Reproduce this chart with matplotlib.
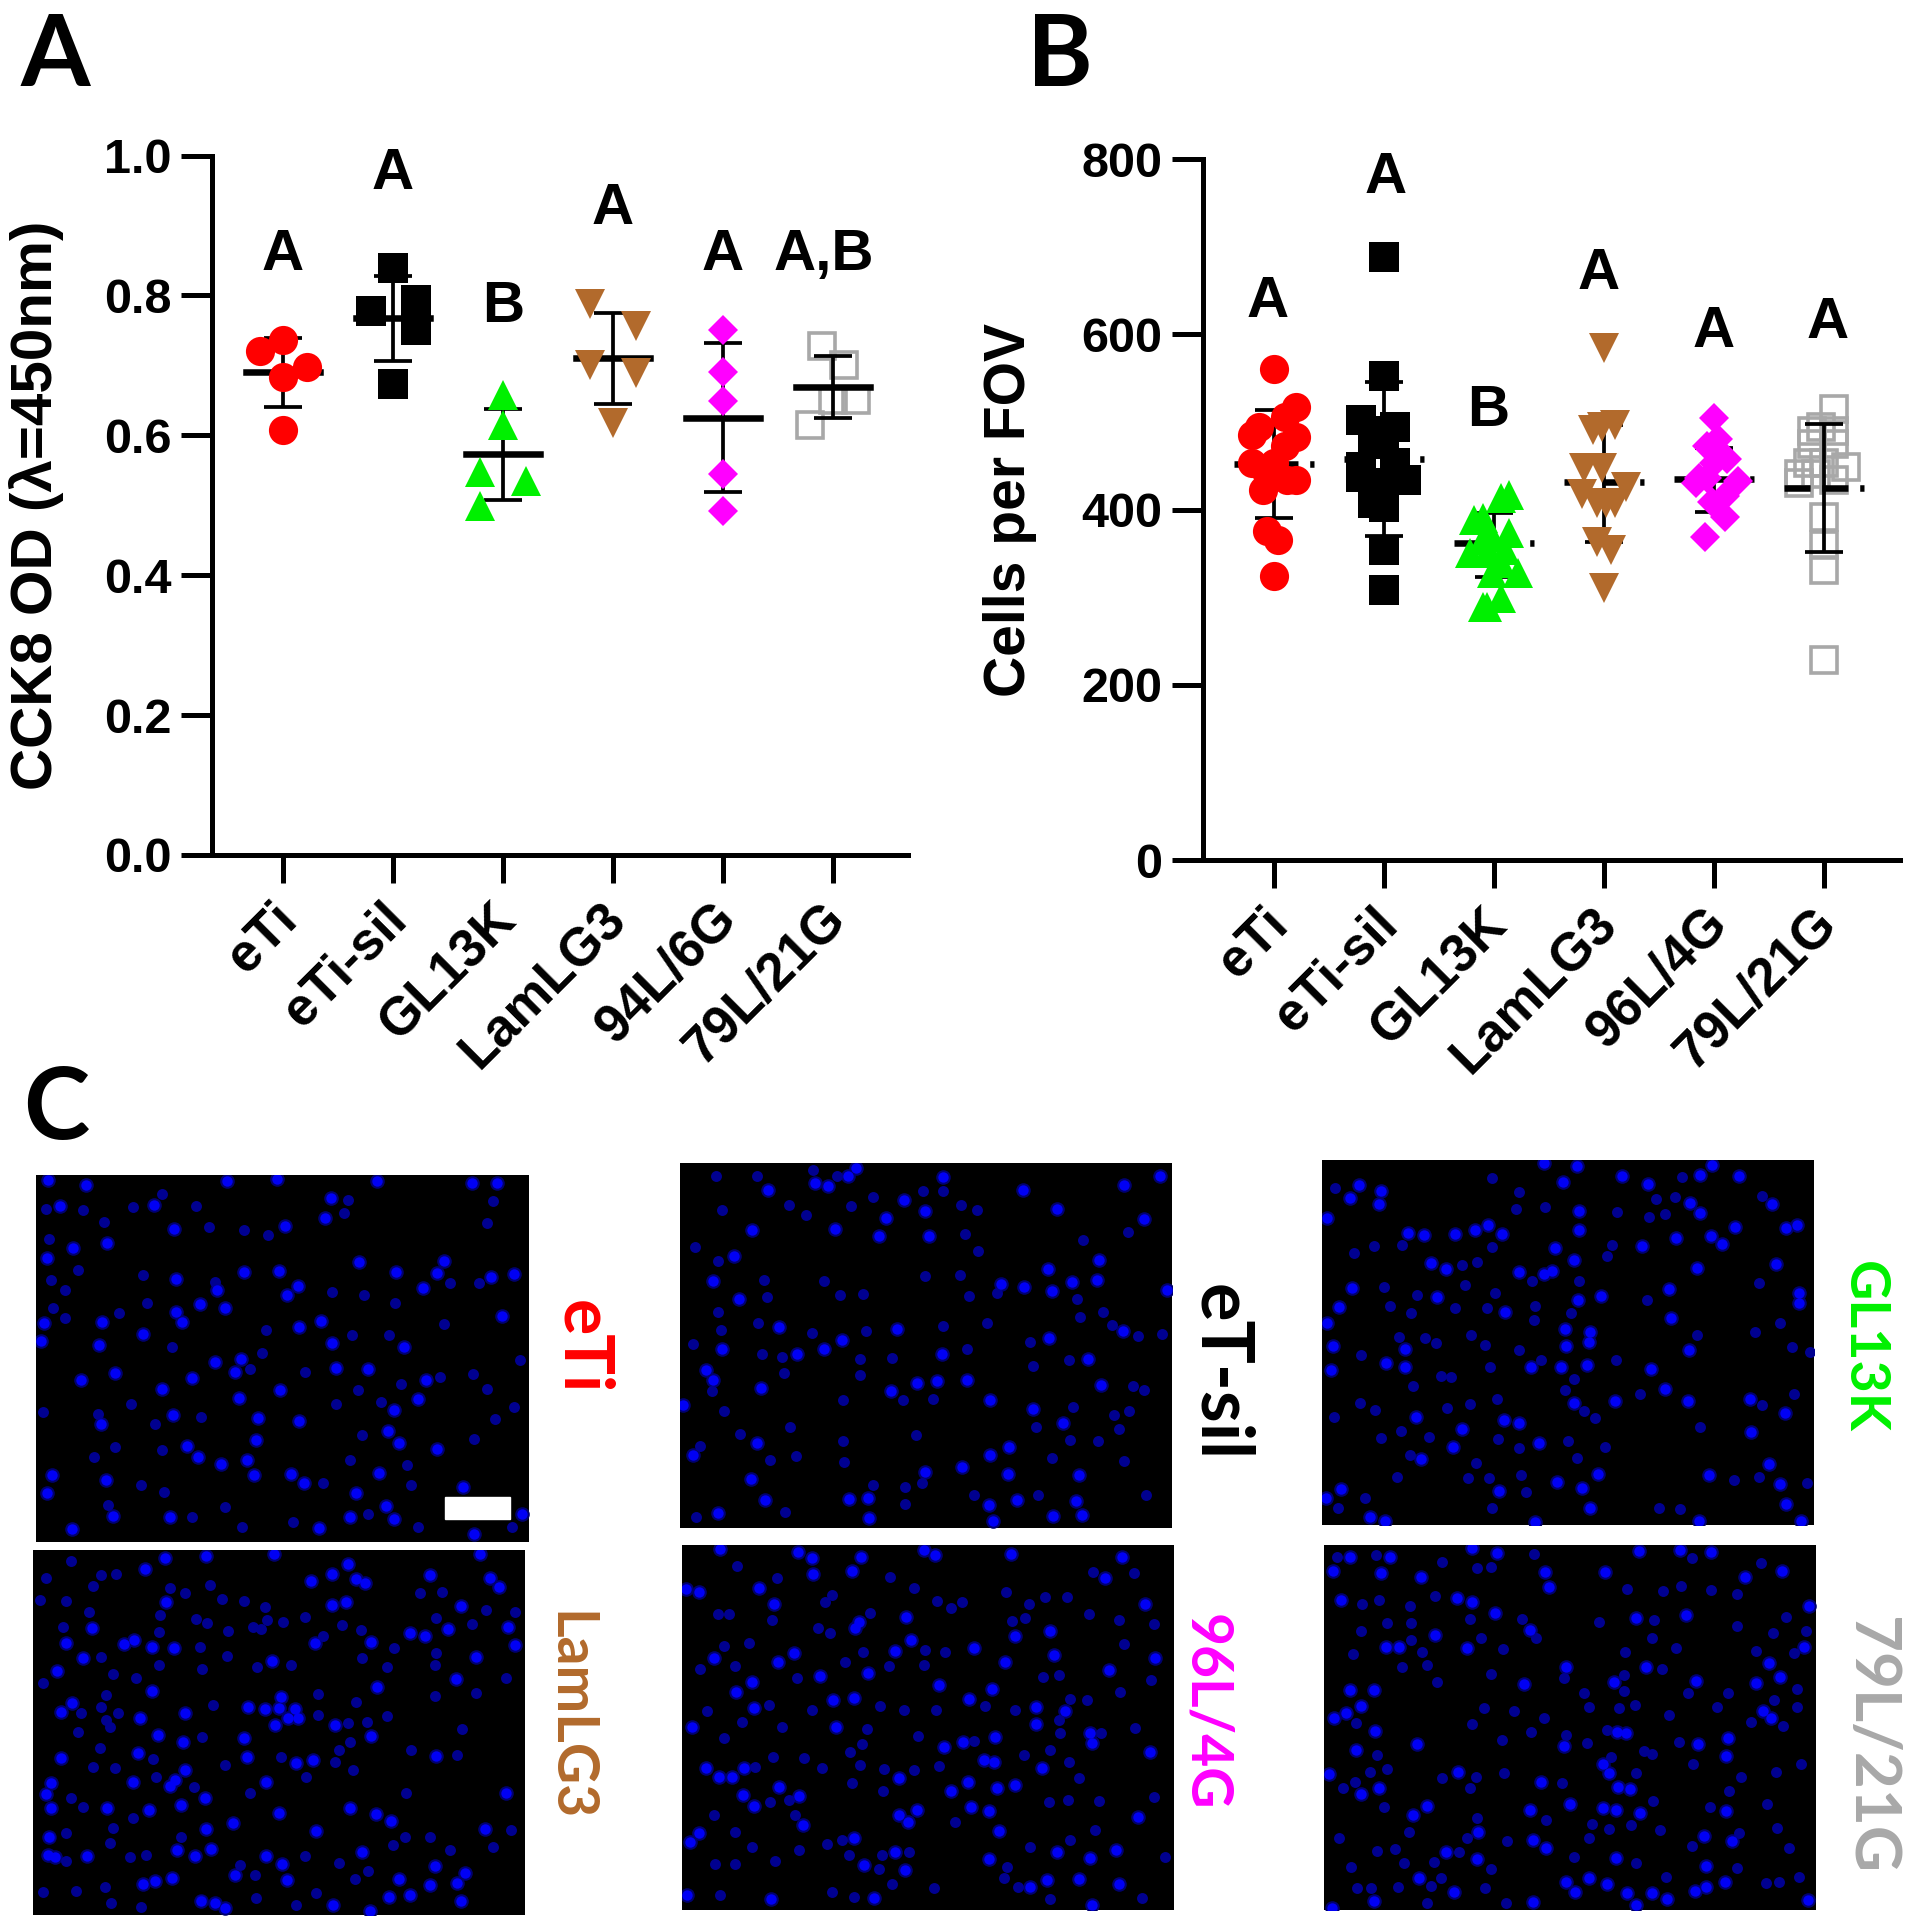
import matplotlib
matplotlib.use('Agg')
from matplotlib import pyplot as plt
from matplotlib.transforms import ScaledTranslation

W = 1909
H = 1920
SANS = 'Liberation Sans'
LABELS_FONT = 'Lato'

names_a = ['eTi', 'eTi-sil', 'GL13K', 'LamLG3', '94L/6G', '79L/21G']
names_b = ['eTi', 'eTi-sil', 'GL13K', 'LamLG3', '96L/4G', '79L/21G']
colors = ['#ff0000', '#000000', '#00f000', '#b26a2c', '#ff00ff', '#a8a8a8']

# panel A, values, dx = swarm offset in category units
a_vals = [
    [0.736, 0.720, 0.698, 0.684, 0.608],
    [0.839, 0.793, 0.777, 0.750, 0.674],
    [0.658, 0.615, 0.547, 0.534, 0.499],
    [0.788, 0.756, 0.700, 0.689, 0.618],
    [0.750, 0.690, 0.649, 0.545, 0.492],
    [0.728, 0.700, 0.650, 0.650, 0.615],
]
a_dx = [
    [0, -.21, .22, 0, 0],
    [0, .21, -.2, .21, 0],
    [0, 0, -.21, .21, -.21],
    [-.21, .21, -.21, .21, 0],
    [0, 0, 0, 0, 0],
    [-.104, .104, .208, 0, -.208],
]
a_mean = [0.690, 0.768, 0.573, 0.710, 0.625, 0.669]
a_top = [0.739, 0.828, 0.638, 0.775, 0.732, 0.714]
a_bot = [0.640, 0.706, 0.507, 0.645, 0.519, 0.625]
a_letters = ['A', 'A', 'B', 'A', 'A', 'A,B']
a_letter_x = [0, 1, 2, 3, 4, 4.92]
a_letter_y = [0.858, 0.973, 0.783, 0.923, 0.858, 0.858]

# panel B
b_vals = [
    [560, 517, 506, 494, 485, 483, 472, 453, 453, 441, 434, 434, 422, 375, 365, 324],
    [688, 552, 502, 494, 490, 490, 475, 475, 453, 449, 437, 434, 430, 430, 407, 403, 354, 308],
    [416, 413, 390, 388, 373, 369, 365, 350, 350, 354, 339, 327, 327, 299, 289, 289],
    [584, 496, 494, 491, 447, 447, 426, 418, 407, 407, 407, 363, 354, 310],
    [504, 481, 472, 458, 453, 436, 436, 430, 433, 415, 409, 392, 369],
    [515, 494, 490, 490, 475, 475, 453, 453, 449, 441, 441, 434, 430, 392, 359, 331, 228],
]
b_dx = [
    [0, .2, .1, -.14, -.2, .2, .1, -.2, 0, -.06, .12, .2, -.1, -.06, .04, 0],
    [0, 0, -.21, .1, -.1, 0, -.1, 0, .1, -.21, -.21, .2, -.1, 0, -.1, 0, 0, 0],
    [.14, .06, -.1, -.18, .14, -.02, -.1, -.22, -.06, .1, .06, -.02, .22, .06, -.06, -.1],
    [0, .1, -.02, -.1, -.18, -.02, .2, -.2, -.06, .1, .02, -.06, .06, 0],
    [0, .04, -.06, .12, 0, -.14, -.06, -.16, .22, .1, -.02, .1, -.08],
    [.09, -.03, -.11, .09, -.11, .09, -.15, 0, .2, -.23, -.07, .09, -.23, 0, 0, 0, 0],
]
b_mean = [452, 458, 362, 431, 435, 425]
b_top = [513, 545, 396, 497, 470, 498]
b_bot = [390, 370, 323, 363, 397, 352]
b_letters = ['A', 'A', 'B', 'A', 'A', 'A']
b_letter_x = [-0.06, 1.01, 1.95, 2.95, 4, 5.03]
b_letter_y = [637, 778, 512, 669, 602, 613]

markers = ['o', 's', '^', 'v', 'D', 's']
marker_sizes = [21, 21, 22, 22, 15, 19]

# nuclei in the micrographs in zoomed crop pixels
eti_bright = [(210,105),(118,90),(555,92),(676,88),(922,92),(1153,100),(1215,100),(808,143),(148,168),(377,166),(425,237),(178,293),(262,280),(793,205),(695,228),(115,325),(597,365),(682,362),(878,336),(967,365),(1085,333),(1067,370),(1255,372),(1200,382),(1033,413),(728,407),(700,435),(430,386),(530,420),(550,473),(488,463),(430,487),(445,516),(250,515),(108,520),(785,513),(730,530),(1225,497),(988,590),(350,553),(100,573),(243,585),(810,580),(588,627),(525,635),(575,665),(470,683),(280,667),(198,690),(395,715),(685,720),(820,652),(900,655),(1040,688),(1022,747),(963,780),(585,742),(630,802),(730,813),(422,795),(247,822),(948,843),(625,870),(1068,895),(975,878),(458,888),(483,920),(540,942),(603,928),(128,973),(258,990),(620,975),(712,970),(925,967),(743,998),(870,1027),(115,1028),(943,1067),(1130,1010),(415,1100),(277,1097),(855,1100),(175,1137),(780,1133),(963,1105),(1275,1090),(1157,1150)]
eti_dim = [(113,178),(204,180),(255,215),(325,170),(478,168),(510,232),(595,240),(655,255),(850,150),(840,190),(1190,220),(1205,153),(395,132),(120,268),(190,360),(350,375),(125,390),(160,420),(130,475),(160,505),(290,490),(360,460),(525,395),(810,425),(890,435),(965,460),(1100,400),(1170,400),(1085,522),(950,555),(860,555),(650,540),(420,590),(640,610),(1155,670),(1190,715),(1075,680),(980,700),(820,760),(930,755),(875,720),(745,665),(610,655),(380,820),(240,790),(320,760),(105,785),(490,800),(280,890),(395,900),(230,920),(855,930),(885,855),(1157,865),(1255,770),(1210,805),(995,945),(1003,1005),(790,997),(1270,630),(345,1005),(400,1025),(265,1065),(550,1070),(715,1115),(1020,1130),(1250,1130),(900,1090),(470,1100),(590,1130)]

sil_bright = [(265,82),(405,60),(445,68),(503,38),(528,15),(672,110),(790,42),(1028,80),(1130,138),(1332,66),(1440,40),(1392,168),(466,198),(215,200),(748,220),(735,143),(618,165),(597,220),(163,280),(1258,290),(1105,318),(100,353),(962,363),(1032,372),(1115,385),(1250,352),(1175,357),(1460,380),(178,407),(652,497),(1108,525),(1330,505),(298,492),(485,530),(432,557),(127,557),(350,573),(785,573),(1223,588),(77,622),(100,652),(243,675),(712,660),(772,655),(860,650),(632,685),(1263,665),(10,725),(1148,780),(232,840),(38,875),(930,877),(988,853),(735,927),(985,933),(213,947),(1198,937),(255,1010),(507,1008),(563,1005),(928,1025),(1010,1010),(1188,1015),(568,1065),(115,1050),(940,1075),(1118,1058),(1205,1055),(930,710),(1058,737),(845,912)]
sil_dim = [(107,38),(230,40),(398,22),(470,38),(790,85),(728,85),(580,103),(512,128),(327,127),(377,157),(125,142),(842,125),(890,142),(855,212),(1208,230),(1345,208),(45,253),(115,293),(893,265),(840,337),(735,338),(433,355),(253,352),(867,400),(952,390),(1190,408),(480,395),(550,393),(262,403),(113,447),(235,480),(790,490),(920,480),(1200,462),(1295,487),(1375,520),(1445,513),(1270,448),(395,510),(557,505),(123,502),(40,543),(1050,538),(860,558),(305,582),(245,572),(540,587),(637,585),(1060,610),(1168,590),(540,637),(313,630),(97,685),(490,712),(670,710),(758,707),(1360,668),(1392,680),(1178,732),(132,745),(1348,745),(1303,755),(1067,792),(1318,797),(330,793),(180,812),(708,815),(488,833),(1170,830),(1255,835),(60,850),(270,892),(347,878),(492,897),(1332,895),(1115,885),(675,973),(725,960),(580,967),(1075,995),(1397,997),(882,997),(48,1062),(315,1047),(675,1022)]

gl_bright = [(110,75),(177,93),(172,133),(15,175),(83,115),(258,218),(305,225),(398,222),(460,210),(498,195),(540,222),(765,18),(665,8),(722,67),(900,47),(978,72),(1135,45),(1170,15),(1252,47),(1350,132),(1105,128),(1135,160),(772,152),(772,210),(1238,200),(1168,227),(1200,253),(960,257),(700,265),(757,300),(1425,195),(1392,205),(1063,233),(328,310),(372,327),(590,335),(665,342),(690,333),(1125,323),(1362,313),(90,383),(345,410),(52,440),(768,420),(838,407),(1042,386),(1430,400),(1432,428),(550,455),(1048,473),(15,490),(730,508),(805,515),(33,557),(250,567),(732,558),(802,545),(1100,570),(193,610),(250,622),(28,630),(628,622),(718,622),(795,615),(987,627),(880,723),(1030,687),(755,728),(1097,722),(1285,718),(1390,760),(282,772),(420,807),(545,780),(590,788),(1287,815),(393,860),(652,848),(298,897),(1340,912),(827,942),(705,967),(1162,945),(1375,973),(57,987),(530,993),(780,983),(12,1015),(145,1070),(188,1083),(805,1045),(1393,1033),(638,1085),(1132,1083),(1438,1083)]
gl_dim = [(40,85),(510,53),(590,95),(668,140),(885,157),(980,170),(1030,163),(1080,50),(1060,110),(1003,118),(583,147),(1320,107),(97,278),(157,257),(240,255),(510,262),(870,255),(855,287),(420,315),(465,307),(630,362),(770,362),(430,375),(185,380),(520,400),(285,405),(203,438),(268,458),(398,443),(495,443),(638,437),(748,460),(635,480),(1310,368),(975,420),(1375,490),(1298,515),(447,525),(232,530),(308,535),(342,550),(490,555),(592,570),(1125,525),(1410,560),(1465,575),(118,585),(503,622),(882,600),(657,600),(358,648),(388,650),(272,678),(755,657),(730,690),(955,702),(1415,702),(1320,735),(113,730),(160,750),(525,718),(445,733),(375,743),(35,770),(785,752),(820,775),(238,812),(320,830),(178,833),(527,838),(590,865),(737,843),(850,860),(765,893),(1135,800),(263,885),(462,910),(225,950),(437,955),(500,953),(598,945),(130,1013),(612,995),(48,1045),(1235,960),(1012,1045),(1075,1048),(510,1045),(1310,950),(1455,968)]

lam_bright = [(335,57),(395,25),(520,18),(722,12),(945,43),(898,72),(835,93),(968,87),(997,100),(1190,75),(1370,85),(1397,112),(1340,13),(400,155),(897,165),(940,157),(1285,167),(177,235),(100,280),(303,270),(272,283),(357,292),(423,293),(845,280),(1175,258),(1130,250),(1245,238),(1013,277),(1425,232),(1447,285),(150,323),(72,362),(717,333),(1330,320),(1270,387),(1032,412),(357,423),(118,458),(83,487),(322,503),(455,490),(645,470),(695,477),(737,473),(745,440),(787,478),(765,503),(795,505),(725,525),(905,525),(375,555),(450,575),(632,565),(1013,557),(315,610),(85,625),(642,622),(790,638),(840,630),(1210,618),(455,660),(425,690),(412,708),(300,697),(698,695),(55,698),(38,733),(515,745),(1418,730),(55,775),(222,775),(348,780),(445,765),(738,790),(950,773),(1030,793),(1073,812),(600,820),(850,843),(520,838),(1355,838),(48,860),(65,920),(45,915),(162,917),(432,900),(487,918),(535,897),(700,917),(988,905),(748,942),(1207,947),(605,975),(1295,970),(367,992),(330,1003),(417,985),(762,990),(1098,988),(1192,1005),(1272,1000),(545,1060),(505,1052),(575,1073),(900,1065),(1068,1040),(1130,1035),(1285,1052),(1010,1083)]
lam_dim = [(40,85),(115,33),(180,108),(205,75),(250,72),(100,153),(20,150),(168,185),(90,230),(410,115),(455,130),(530,105),(568,147),(632,153),(380,195),(378,245),(490,207),(522,218),(585,243),(695,172),(703,210),(660,232),(685,238),(750,215),(815,200),(870,258),(927,225),(985,240),(1160,130),(1228,125),(1208,205),(1360,180),(1318,222),(1445,185),(205,322),(240,372),(310,383),(378,345),(500,292),(583,318),(508,357),(672,350),(775,345),(988,325),(1082,293),(1063,350),(1208,310),(1205,345),(1418,385),(30,400),(220,435),(205,472),(145,490),(255,490),(218,510),(232,530),(135,545),(200,595),(508,560),(540,465),(855,495),(968,455),(1003,515),(1063,497),(945,520),(1328,430),(855,432),(1205,438),(1288,537),(1135,600),(1272,615),(950,575),(918,600),(905,635),(745,620),(575,645),(360,628),(245,655),(180,652),(370,680),(483,712),(650,730),(820,680),(960,660),(1120,730),(115,745),(150,770),(445,860),(300,805),(240,835),(50,860),(100,850),(230,880),(290,920),(340,915),(100,932),(815,918),(1080,885),(1115,862),(1190,860),(1250,900),(1380,890),(1435,840),(620,945),(665,975),(918,940),(1005,963),(965,988),(130,1023),(215,1012),(325,1070),(505,1050),(850,1030),(790,1065),(670,1045),(235,1060),(30,1025)]

l96_bright = [(113,12),(348,20),(390,38),(537,35),(725,15),(760,30),(988,28),(1320,35),(510,78),(393,87),(230,128),(12,133),(52,142),(277,178),(672,217),(530,230),(520,250),(1390,178),(1270,100),(1105,258),(1000,272),(688,285),(95,340),(288,350),(335,323),(640,318),(970,352),(1418,340),(877,310),(1115,330),(413,392),(558,385),(210,410),(1280,375),(163,440),(930,432),(452,465),(515,458),(862,462),(772,420),(1150,497),(215,488),(1062,485),(1062,537),(30,545),(462,547),(843,590),(940,575),(1225,563),(1230,593),(785,607),(1405,620),(905,645),(937,650),(72,670),(185,670),(110,697),(150,697),(650,700),(1080,668),(290,725),(858,710),(1000,720),(945,730),(182,750),(352,753),(217,783),(867,787),(920,798),(705,795),(808,738),(362,840),(950,858),(1368,815),(678,830),(650,810),(52,865),(25,890),(517,880),(640,920),(1303,915),(1125,920),(1225,940),(920,943),(1095,1005),(1192,1002),(1312,1018),(1045,1025),(668,975),(545,960),(15,1050),(267,1062),(575,1060),(1230,1080)]
l96_dim = [(165,62),(285,100),(430,170),(450,150),(625,95),(695,130),(765,168),(840,170),(808,190),(973,140),(1155,155),(1090,155),(1040,178),(1355,83),(1232,80),(1220,207),(1312,225),(1415,237),(107,208),(140,208),(270,225),(407,250),(445,265),(565,205),(990,228),(1030,218),(200,293),(125,303),(542,322),(490,350),(790,320),(730,315),(1082,395),(1130,390),(1325,297),(55,372),(160,362),(345,400),(620,362),(725,360),(1408,405),(1315,440),(1163,462),(1215,465),(75,497),(262,480),(390,495),(665,495),(595,483),(762,495),(910,483),(1000,495),(1130,525),(180,530),(125,580),(300,545),(555,552),(1258,563),(1135,565),(1360,550),(708,573),(875,587),(272,635),(540,598),(505,622),(1025,630),(1105,615),(1160,650),(220,665),(420,668),(535,660),(605,672),(695,675),(770,663),(365,640),(510,715),(603,738),(1190,700),(265,770),(320,765),(1158,765),(1250,768),(1415,755),(1100,770),(95,810),(340,810),(820,830),(1240,855),(160,860),(1165,885),(210,905),(350,915),(435,898),(480,885),(1045,905),(975,965),(160,958),(100,958),(280,948),(500,930),(600,930),(680,920),(590,972),(755,1030),(965,1000),(1008,1025),(630,1017),(450,1040),(515,1055),(115,1050),(1105,1062),(1380,1060),(1450,935)]

l79_bright = [(78,35),(197,35),(28,78),(172,83),(292,97),(445,10),(518,25),(945,18),(1067,15),(1160,20),(663,80),(843,80),(1263,95),(1373,78),(675,125),(50,165),(400,158),(445,172),(513,203),(935,220),(1087,210),(1455,182),(617,255),(333,270),(187,307),(225,307),(430,308),(1440,305),(965,365),(725,365),(1335,355),(1368,395),(870,410),(1115,408),(1295,413),(600,418),(150,435),(78,435),(110,483),(30,520),(65,505),(1340,518),(1318,497),(152,557),(905,563),(878,560),(280,598),(95,615),(720,602),(1123,597),(1213,578),(1205,632),(838,657),(855,685),(15,687),(403,680),(165,730),(650,712),(882,727),(917,732),(112,748),(737,778),(617,795),(838,790),(875,795),(948,805),(1205,797),(310,783),(268,810),(462,860),(628,885),(667,910),(1225,888),(1140,873),(367,920),(458,943),(877,938),(1145,963),(285,1000),(795,1000),(725,1010),(752,1040),(850,1017),(1203,1012),(390,1040),(908,1043),(985,1045),(1028,1062),(1147,1027),(1113,1037),(935,1080),(150,1068),(25,1088),(628,1070),(1452,1065)]
l79_dim = [(40,35),(157,30),(355,50),(460,70),(500,65),(630,28),(1105,40),(115,178),(165,165),(258,183),(333,152),(908,133),(1018,137),(1072,122),(1160,135),(1238,148),(1310,55),(190,235),(262,235),(437,222),(595,222),(825,232),(990,225),(1385,215),(1238,243),(1347,265),(1445,258),(112,258),(262,285),(472,278),(635,280),(985,280),(88,327),(295,322),(537,312),(902,322),(1055,310),(1295,318),(1410,325),(235,367),(308,360),(502,388),(720,400),(1013,372),(900,390),(340,410),(780,445),(900,437),(1092,445),(1212,445),(1420,432),(480,490),(570,498),(885,490),(795,487),(933,480),(1178,485),(1420,487),(1350,465),(97,533),(443,537),(660,520),(1035,510),(620,562),(1280,530),(1378,543),(848,555),(535,585),(725,570),(1065,590),(790,595),(960,617),(158,630),(862,637),(985,628),(1107,657),(1432,658),(138,680),(190,672),(355,700),(457,695),(540,683),(935,683),(1250,697),(1355,680),(92,712),(715,715),(437,728),(58,730),(180,785),(1215,737),(988,767),(1158,787),(1330,778),(460,820),(665,825),(803,838),(855,852),(1008,855),(920,840),(1358,848),(1245,865),(255,860),(45,878),(795,880),(430,880),(548,888),(1105,903),(1395,910),(160,918),(213,913),(405,920),(750,935),(935,955),(240,953),(330,952),(80,965),(500,973),(1238,968),(1025,997),(1425,995),(350,1000),(320,1022),(100,1028),(140,1030),(222,1027),(482,1030),(1325,1015),(1365,1012),(310,1075),(545,1075)]


def px_axes(fig, x0, y0, x1, y1):
    return fig.add_axes([x0 / W, 1 - y1 / H, (x1 - x0) / W, (y1 - y0) / H])


def px_text(fig, x, y, s, **kw):
    fig.text(x / W, 1 - y / H, s, **kw)


def draw_scatter(fig, ax, names, vals, dxs, means, tops, bots, half, dashed, ylabel, ylabel_size,
                 letters, lx, ly):
    for i in range(6):
        xs = [i + d for d in dxs[i]]
        if i == 5:
            ax.plot(xs, vals[i], ls='', marker=markers[i], ms=marker_sizes[i], mfc='none',
                    mec=colors[i], mew=2.6, clip_on=False, zorder=3)
        else:
            # filled markers sit on top of the error bars
            ax.plot(xs, vals[i], ls='', marker=markers[i], ms=marker_sizes[i], mfc=colors[i],
                    mec=colors[i], mew=0, clip_on=False, zorder=6)
        ax.errorbar([i], [means[i]], yerr=[[means[i] - bots[i]], [tops[i] - means[i]]], fmt='none',
                    ecolor='black', elinewidth=2.7, capsize=14, capthick=2.7, zorder=4)
        if dashed:
            ax.plot([i - half, i + half], [means[i], means[i]], color='black', lw=4.7,
                    ls=(0, (4, 1.8)), zorder=5)
        else:
            ax.plot([i - half, i + half], [means[i], means[i]], color='black', lw=4.7, zorder=5)
        ax.text(lx[i], ly[i], letters[i], ha='center', va='center', fontsize=42,
                fontweight='bold', family=SANS)
    ax.set_xticks(range(6))
    ax.set_xticklabels(names, rotation=45, ha='right', rotation_mode='anchor',
                       fontsize=38, fontweight='bold', family=SANS)
    for lab in ax.get_yticklabels():
        lab.set_fontsize(35)
        lab.set_fontweight('bold')
        lab.set_family(SANS)
    ax.spines['top'].set_visible(False)
    ax.spines['right'].set_visible(False)
    ax.spines['left'].set_linewidth(3.6)
    ax.spines['bottom'].set_linewidth(3.6)
    ax.tick_params(axis='y', length=22, width=3.6, pad=7)
    ax.tick_params(axis='x', length=20, width=3.6, pad=8)
    # tick_params resets the label transform, so the shift has to come after it
    shift = ScaledTranslation(-0.12, 0, fig.dpi_scale_trans)
    for lab in ax.get_xticklabels():
        lab.set_transform(lab.get_transform() + shift)
    ax.set_ylabel(ylabel, fontsize=ylabel_size, fontweight='bold', family=SANS, va='center')


def draw_photo(fig, box, bright, dim, extent):
    ax = px_axes(fig, *box)
    ax.set_facecolor('black')
    ax.scatter([p[0] for p in bright], [p[1] for p in bright], s=110, color='#000070', linewidths=0)
    ax.scatter([p[0] for p in dim], [p[1] for p in dim], s=62, color='#000090', linewidths=0)
    ax.scatter([p[0] for p in bright], [p[1] for p in bright], s=56, color='#0000f5', linewidths=0)
    ax.set_xlim(extent[0], extent[1])
    ax.set_ylim(extent[2], extent[3])
    ax.set_xticks([])
    ax.set_yticks([])
    for s in ax.spines.values():
        s.set_visible(False)
    return ax


fig = plt.figure(figsize=(W / 100, H / 100), dpi=100)

# A
ax_a = px_axes(fig, 212, 155.5, 908, 855)
ax_a.set_xlim(-0.645, 5.682)
ax_a.set_ylim(0, 1)
ax_a.set_yticks([0, .2, .4, .6, .8, 1.0])
ax_a.set_yticklabels(['0.0', '0.2', '0.4', '0.6', '0.8', '1.0'])
draw_scatter(fig, ax_a, names_a, a_vals, a_dx, a_mean, a_top, a_bot, 0.335, False,
             'CCK8 OD (\u03bb=450nm)', 42, a_letters, a_letter_x, a_letter_y)
ax_a.yaxis.set_label_coords((37 - 212) / 696, 0.5)

# B
ax_b = px_axes(fig, 1202.5, 159, 1900, 860)
ax_b.set_xlim(-0.65, 5.69)
ax_b.set_ylim(0, 800)
ax_b.set_yticks([0, 200, 400, 600, 800])
draw_scatter(fig, ax_b, names_b, b_vals, b_dx, b_mean, b_top, b_bot, 0.36, True,
             'Cells per FOV', 41, b_letters, b_letter_x, b_letter_y)
ax_b.yaxis.set_label_coords((1010 - 1202.5) / 697.5, 0.5)

# C
crop = (0, 1476, 1095, 0)
ax_eti = draw_photo(fig, (35.5, 1175, 529, 1542), eti_bright, eti_dim, (87, 1292, 1175, 75))
draw_photo(fig, (680, 1163, 1172, 1528), sil_bright, sil_dim, crop)
draw_photo(fig, (1322, 1160, 1814, 1525), gl_bright, gl_dim, crop)
draw_photo(fig, (33, 1550, 525, 1915), lam_bright, lam_dim, crop)
draw_photo(fig, (682, 1545, 1174, 1910), l96_bright, l96_dim, crop)
draw_photo(fig, (1324, 1545, 1816, 1910), l79_bright, l79_dim, crop)
# scale bar
ax_eti.add_patch(plt.Rectangle((1088, 1040), 158, 67, color='white', zorder=5))

px_text(fig, 55, 58, 'A', fontsize=72, fontweight='bold', family=LABELS_FONT, ha='center', va='center')
px_text(fig, 1060, 58, 'B', fontsize=72, fontweight='bold', family=LABELS_FONT, ha='center', va='center')
px_text(fig, 56, 1110, 'C', fontsize=72, fontweight='bold', family=LABELS_FONT, ha='center', va='center')

side_labels = [('eTi', 582, 1347, colors[0], 49), ('eT-sil', 1220, 1373, colors[1], 52),
               ('GL13K', 1864, 1347, colors[2], 40), ('LamLG3', 569, 1716, colors[3], 41),
               ('96L/4G', 1206, 1712, colors[4], 41), ('79L/21G', 1870, 1746, colors[5], 46)]
for s, x, y, c, size in side_labels:
    px_text(fig, x, y, s, rotation=-90, color=c, fontsize=size, fontweight='bold',
            family=LABELS_FONT, ha='center', va='center')

plt.savefig('out.png', dpi=100)
plt.close()
